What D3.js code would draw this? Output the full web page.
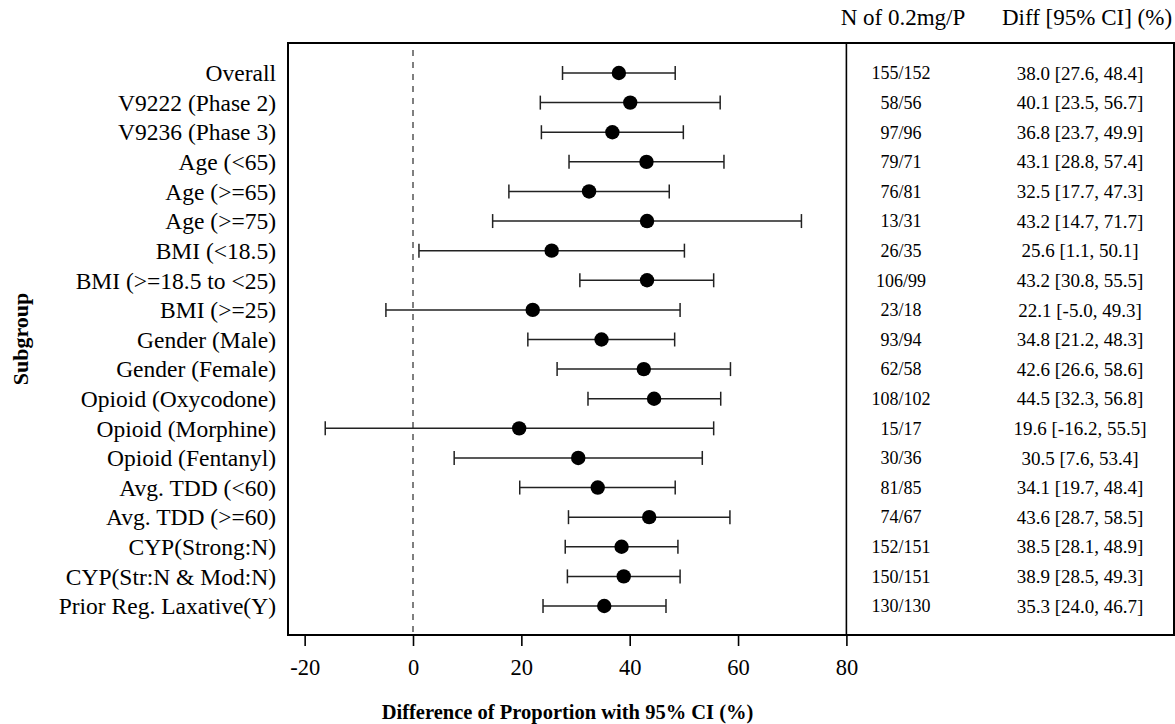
<!DOCTYPE html>
<html>
<head>
<meta charset="utf-8">
<script src="https://cdn.jsdelivr.net/npm/d3@7"></script>
<style>
  body { margin: 0; background: #fff; }
  svg text { font-family: 'Liberation Serif', 'Times New Roman', serif; fill: #000; }
</style>
</head>
<body>
<svg id="forest"></svg>
<script>
// chart values
const subgroups = [
  'Overall', 'V9222 (Phase 2)', 'V9236 (Phase 3)', 'Age (<65)', 'Age (>=65)',
  'Age (>=75)', 'BMI (<18.5)', 'BMI (>=18.5 to <25)', 'BMI (>=25)', 'Gender (Male)',
  'Gender (Female)', 'Opioid (Oxycodone)', 'Opioid (Morphine)', 'Opioid (Fentanyl)',
  'Avg. TDD (<60)', 'Avg. TDD (>=60)', 'CYP(Strong:N)', 'CYP(Str:N & Mod:N)',
  'Prior Reg. Laxative(Y)'
];
const diffs = [38.0, 40.1, 36.8, 43.1, 32.5, 43.2, 25.6, 43.2, 22.1, 34.8, 42.6, 44.5, 19.6, 30.5, 34.1, 43.6, 38.5, 38.9, 35.3];
const lower = [27.6, 23.5, 23.7, 28.8, 17.7, 14.7, 1.1, 30.8, -5.0, 21.2, 26.6, 32.3, -16.2, 7.6, 19.7, 28.7, 28.1, 28.5, 24.0];
const upper = [48.4, 56.7, 49.9, 57.4, 47.3, 71.7, 50.1, 55.5, 49.3, 48.3, 58.6, 56.8, 55.5, 53.4, 48.4, 58.5, 48.9, 49.3, 46.7];
const counts = ['155/152', '58/56', '97/96', '79/71', '76/81', '13/31', '26/35', '106/99', '23/18', '93/94',
  '62/58', '108/102', '15/17', '30/36', '81/85', '74/67', '152/151', '150/151', '130/130'];
const xTicks = [-20, 0, 20, 40, 60, 80];

const width = 1175;
const height = 724;

// frame box
const frame = { left: 288, top: 43, right: 1174, bottom: 635 };

const rows = subgroups.map((name, i) => ({
  name: name,
  diff: diffs[i],
  lo: lower[i],
  hi: upper[i],
  n: counts[i]
}));

const svg = d3.select('#forest')
  .attr('width', width)
  .attr('height', height);

const scales = {
  x: d3.scaleLinear().domain([0, 80]).range([413, 846.4]),
  y: d3.scalePoint().domain(subgroups).range([73, 606])
};

const colN = 901;
const colDiff = 1080;

drawFrame();
drawAxis();
drawRows();
drawTitles();

function drawFrame() {
  svg.append('rect')
    .attr('x', frame.left)
    .attr('y', frame.top)
    .attr('width', frame.right - frame.left)
    .attr('height', frame.bottom - frame.top)
    .attr('fill', 'none')
    .attr('stroke', '#000')
    .attr('stroke-width', 2);

  // divider between plot and table = x of 80
  svg.append('line')
    .attr('x1', scales.x(80)).attr('x2', scales.x(80))
    .attr('y1', frame.top).attr('y2', frame.bottom)
    .attr('stroke', '#000')
    .attr('stroke-width', 1.6);

  // reference line at zero
  svg.append('line')
    .attr('x1', scales.x(0)).attr('x2', scales.x(0))
    .attr('y1', frame.top + 7).attr('y2', frame.bottom)
    .attr('stroke', '#555')
    .attr('stroke-width', 1.5)
    .attr('stroke-dasharray', '6,6');
}

function drawAxis() {
  const xAxis = d3.axisBottom(scales.x)
    .tickValues(xTicks)
    .tickFormat(d => d < 0 ? '-' + Math.abs(d) : String(d))
    .tickSize(11)
    .tickPadding(13)
    .tickSizeOuter(0);

  const g = svg.append('g')
    .attr('id', 'x-axis')
    .attr('transform', translate(0, frame.bottom))
    .call(xAxis);

  g.select('.domain').remove();
  g.selectAll('.tick line').attr('stroke', '#000').attr('stroke-width', 1.6);
  g.selectAll('.tick text')
    .style('font-family', "'Liberation Serif', serif")
    .style('font-size', '22.5px')
    .attr('fill', '#000');
}

function drawRows() {
  const group = svg.append('g').attr('id', 'rows');
  const capH = 7;

  const row = group.selectAll('g.row')
    .data(rows)
    .enter()
    .append('g')
    .attr('class', 'row')
    .attr('transform', d => translate(0, scales.y(d.name)));

  row.append('line')
    .attr('x1', d => scales.x(d.lo))
    .attr('x2', d => scales.x(d.hi))
    .attr('stroke', '#222')
    .attr('stroke-width', 1.5);

  row.append('line')
    .attr('x1', d => scales.x(d.lo)).attr('x2', d => scales.x(d.lo))
    .attr('y1', -capH).attr('y2', capH)
    .attr('stroke', '#222')
    .attr('stroke-width', 1.5);

  row.append('line')
    .attr('x1', d => scales.x(d.hi)).attr('x2', d => scales.x(d.hi))
    .attr('y1', -capH).attr('y2', capH)
    .attr('stroke', '#222')
    .attr('stroke-width', 1.5);

  row.append('circle')
    .attr('cx', d => scales.x(d.diff))
    .attr('r', 7.2)
    .attr('fill', '#000');

  // left labels
  row.append('text')
    .attr('x', 276)
    .attr('dy', '0.35em')
    .attr('text-anchor', 'end')
    .style('font-size', '23.5px')
    .text(d => d.name);

  // table columns
  row.append('text')
    .attr('x', colN)
    .attr('dy', '0.35em')
    .attr('text-anchor', 'middle')
    .style('font-size', '18px')
    .text(d => d.n);

  row.append('text')
    .attr('x', colDiff)
    .attr('dy', '0.35em')
    .attr('text-anchor', 'middle')
    .style('font-size', '19px')
    .text(d => d.diff.toFixed(1) + ' [' + d.lo.toFixed(1) + ', ' + d.hi.toFixed(1) + ']');
}

function drawTitles() {
  svg.append('text')
    .attr('x', colN + 2)
    .attr('y', 25)
    .attr('text-anchor', 'middle')
    .style('font-size', '23px')
    .text('N of 0.2mg/P');

  svg.append('text')
    .attr('x', 1087)
    .attr('y', 25)
    .attr('text-anchor', 'middle')
    .style('font-size', '23px')
    .text('Diff [95% CI] (%)');

  svg.append('text')
    .attr('x', (scales.x(-20) + scales.x(80)) / 2 - 8)
    .attr('y', 719)
    .attr('text-anchor', 'middle')
    .style('font-size', '20.5px')
    .style('font-weight', 'bold')
    .text('Difference of Proportion with 95% CI (%)');

  const yGroup = svg.append('g')
    .attr('transform', translate(20, (frame.top + frame.bottom) / 2));
  yGroup.append('text')
    .attr('dy', '0.35em')
    .attr('text-anchor', 'middle')
    .attr('transform', 'rotate(-90)')
    .style('font-size', '22px')
    .style('font-weight', 'bold')
    .text('Subgroup');
}

function translate(x, y) {
  return 'translate(' + String(x) + ',' + String(y) + ')';
}
</script>
</body>
</html>
